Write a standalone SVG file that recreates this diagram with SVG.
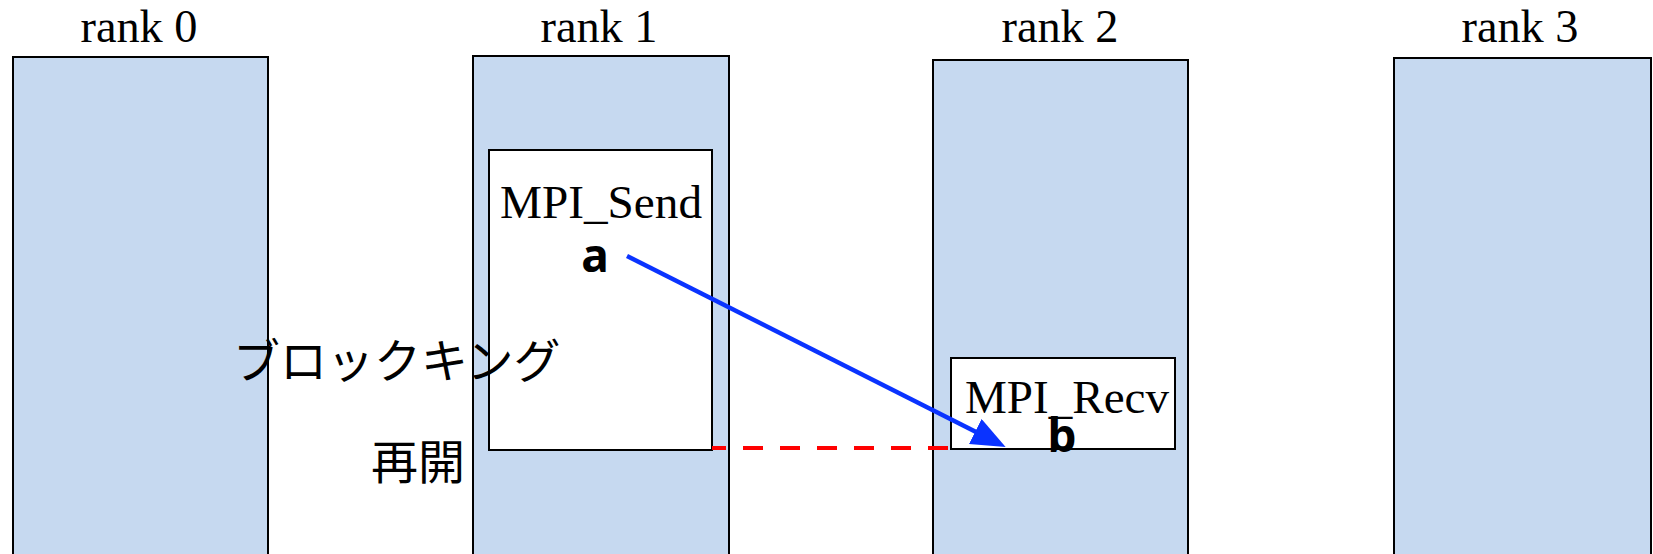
<svg xmlns="http://www.w3.org/2000/svg" width="1653" height="554" viewBox="0 0 1653 554">
<style>
.rank{fill:#C6D9F0;stroke:#000;stroke-width:2}
.call{fill:#fff;stroke:#000;stroke-width:2}
.lbl{font-family:"Liberation Serif","Times New Roman",serif;font-size:46px;fill:#000;text-anchor:middle}
.var{font-family:"Noto Sans","DejaVu Sans",sans-serif;font-weight:bold;font-size:46px;fill:#000;text-anchor:middle}
.jp{font-family:"Noto Sans CJK JP","Noto Sans CJK SC",sans-serif;font-size:47px;fill:#000}
</style>
<defs>
<marker id="ah" viewBox="0 0 34 28" refX="12" refY="14" markerWidth="34" markerHeight="28" markerUnits="userSpaceOnUse" orient="auto">
<path d="M0,0 L34,14 L0,28 z" fill="#0A33FF"/>
</marker>
</defs>
<g id="rank0">
<rect class="rank" x="13" y="57" width="255" height="510"/>
<text class="lbl" x="139" y="42" textLength="117" lengthAdjust="spacingAndGlyphs">rank 0</text>
</g>
<g id="rank1">
<rect class="rank" x="473" y="56" width="256" height="510"/>
<text class="lbl" x="599" y="42" textLength="117" lengthAdjust="spacingAndGlyphs">rank 1</text>
</g>
<g id="rank2">
<rect class="rank" x="933" y="60" width="255" height="510"/>
<text class="lbl" x="1060" y="42" textLength="117" lengthAdjust="spacingAndGlyphs">rank 2</text>
</g>
<g id="rank3">
<rect class="rank" x="1394" y="58" width="257" height="510"/>
<text class="lbl" x="1520" y="42" textLength="117" lengthAdjust="spacingAndGlyphs">rank 3</text>
</g>
<g id="mpi_send">
<rect class="call" x="489" y="150" width="223" height="300"/>
<text class="lbl" x="601" y="218" textLength="202" lengthAdjust="spacingAndGlyphs">MPI_Send</text>
<text class="var" x="595" y="272">a</text>
</g>
<g id="mpi_recv">
<rect class="call" x="951" y="358" width="224" height="91"/>
<text class="lbl" x="1067" y="413" textLength="204" lengthAdjust="spacingAndGlyphs">MPI_Recv</text>
<text class="var" x="1062" y="452">b</text>
</g>
<g id="connectors">
<line x1="712" y1="448" x2="950" y2="448" stroke="#FF0000" stroke-width="4" stroke-dasharray="20 17" stroke-dashoffset="6"/>
<line x1="627" y1="256" x2="986" y2="437" stroke="#0A33FF" stroke-width="4.5" marker-end="url(#ah)"/>
</g>
<g id="labels">
<text class="jp" x="233" y="378">ブロックキング</text>
<text class="jp" x="465" y="479" text-anchor="end">再開</text>
</g>
</svg>
